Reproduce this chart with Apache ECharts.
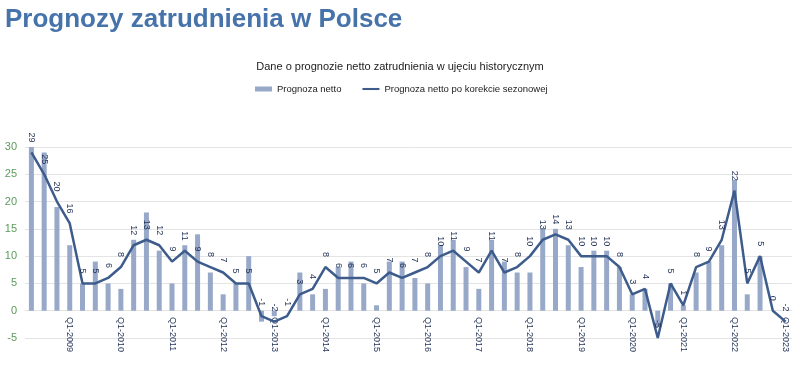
<!DOCTYPE html>
<html>
<head>
<meta charset="utf-8">
<script src="https://cdn.jsdelivr.net/npm/echarts@6/dist/echarts.min.js"></script>
<style>
html,body{margin:0;padding:0;background:#fff;}
#c{width:800px;height:374px;}
</style>
</head>
<body>
<div id="c"></div>
<script>
var categories = [
 'Q2-2008','Q3-2008','Q4-2008',
 'Q1-2009','Q2-2009','Q3-2009','Q4-2009',
 'Q1-2010','Q2-2010','Q3-2010','Q4-2010',
 'Q1-2011','Q2-2011','Q3-2011','Q4-2011',
 'Q1-2012','Q2-2012','Q3-2012','Q4-2012',
 'Q1-2013','Q2-2013','Q3-2013','Q4-2013',
 'Q1-2014','Q2-2014','Q3-2014','Q4-2014',
 'Q1-2015','Q2-2015','Q3-2015','Q4-2015',
 'Q1-2016','Q2-2016','Q3-2016','Q4-2016',
 'Q1-2017','Q2-2017','Q3-2017','Q4-2017',
 'Q1-2018','Q2-2018','Q3-2018','Q4-2018',
 'Q1-2019','Q2-2019','Q3-2019','Q4-2019',
 'Q1-2020','Q2-2020','Q3-2020','Q4-2020',
 'Q1-2021','Q2-2021','Q3-2021','Q4-2021',
 'Q1-2022','Q2-2022','Q3-2022','Q4-2022',
 'Q1-2023'
];
var netto = [30,29,19,12, 5,9,5,4, 13,18,11,5, 12,14,7,3, 5,10,-2,-1, 0,7,3,4, 8,9,5,1, 9,9,6,5, 12,13,8,4, 13,9,7,7, 15,15,12,8, 11,11,8,3, 4,-3,5,1, 7,9,12,24, 3,10,0,0];
var skorygowana = [29,25,20,16, 5,5,6,8, 12,13,12,9, 11,9,8,7, 5,5,-1,-2, -1,3,4,8, 6,6,6,5, 7,6,7,8, 10,11,9,7, 11,7,8,10, 13,14,13,10, 10,10,8,3, 4,-5,5,1, 8,9,13,22, 5,10,0,-2];
var etykiety = [29,25,20,16, 5,5,6,8, 12,13,12,9, 11,9,8,7, 5,5,-1,-2, -1,3,4,8, 6,6,6,5, 7,6,7,8, 10,11,9,7, 11,7,8,10, 13,14,13,10, 10,10,8,3, 4,-5,5,1, 8,9,13,22, 5,5,0,-2];
var yTicks = {min:-5, max:30, interval:5};

var chart = echarts.init(document.getElementById('c'), null, {renderer:'canvas'});
var FONT = 'Liberation Sans, Arial, Helvetica, sans-serif';
chart.setOption({
  animation:false,
  textStyle:{fontFamily:FONT},
  title:[{
    text:'Prognozy zatrudnienia w Polsce',
    left:0, top:2,
    textStyle:{fontFamily:FONT, fontSize:26, fontWeight:'bold', color:'#4673aa'}
  },{
    text:'Dane o prognozie netto zatrudnienia w ujęciu historycznym',
    left:'center', top:56,
    textStyle:{fontFamily:FONT, fontSize:11, fontWeight:'normal', color:'#222'}
  }],
  legend:{
    top:79, left:250,
    itemGap:21, itemWidth:17, itemHeight:5,
    textStyle:{fontFamily:FONT, fontSize:9.5, color:'#222'},
    data:[
      {name:'Prognoza netto', icon:'rect'},
      {name:'Prognoza netto po korekcie sezonowej', icon:'path://M0,0H18V2.2H0Z'}
    ]
  },
  grid:{left:25, right:8, top:147, height:191, containLabel:false, outerBoundsMode:'none'},
  xAxis:{
    type:'category', data:categories,
    boundaryGap:true,
    axisLine:{show:true, onZero:true, lineStyle:{color:'#e4e4e4'}},
    axisTick:{show:false},
    axisLabel:{
      rotate:-90, margin:-21, fontSize:9, color:'#1f2f55', fontFamily:FONT,
      interval:function(i){return i % 4 === 3;}
    },
    splitLine:{show:false}
  },
  yAxis:{
    type:'value', min:yTicks.min, max:yTicks.max, interval:yTicks.interval,
    axisLine:{show:false}, axisTick:{show:false},
    axisLabel:{fontSize:11, color:'#5b9a5b', margin:8, fontFamily:FONT},
    splitLine:{lineStyle:{color:'#e4e4e4', width:1}}
  },
  series:[{
    name:'Prognoza netto', type:'bar', data:netto,
    barWidth:5,
    itemStyle:{color:'#97a8c8'}
  },{
    name:'Prognoza netto po korekcie sezonowej', type:'line', data:skorygowana,
    symbol:'circle', symbolSize:0.01, showSymbol:true,
    lineStyle:{color:'#3d5c8c', width:2.5},
    itemStyle:{color:'#3d5c8c'},
    label:{
      show:true, position:'top', distance:10, rotate:-90,
      align:'right', verticalAlign:'middle',
      fontSize:9, color:'#1f2f55', fontFamily:FONT,
      formatter:function(p){return String(etykiety[p.dataIndex]);}
    },
    labelLayout:{hideOverlap:false},
    z:3
  }]
});
</script>
</body>
</html>
